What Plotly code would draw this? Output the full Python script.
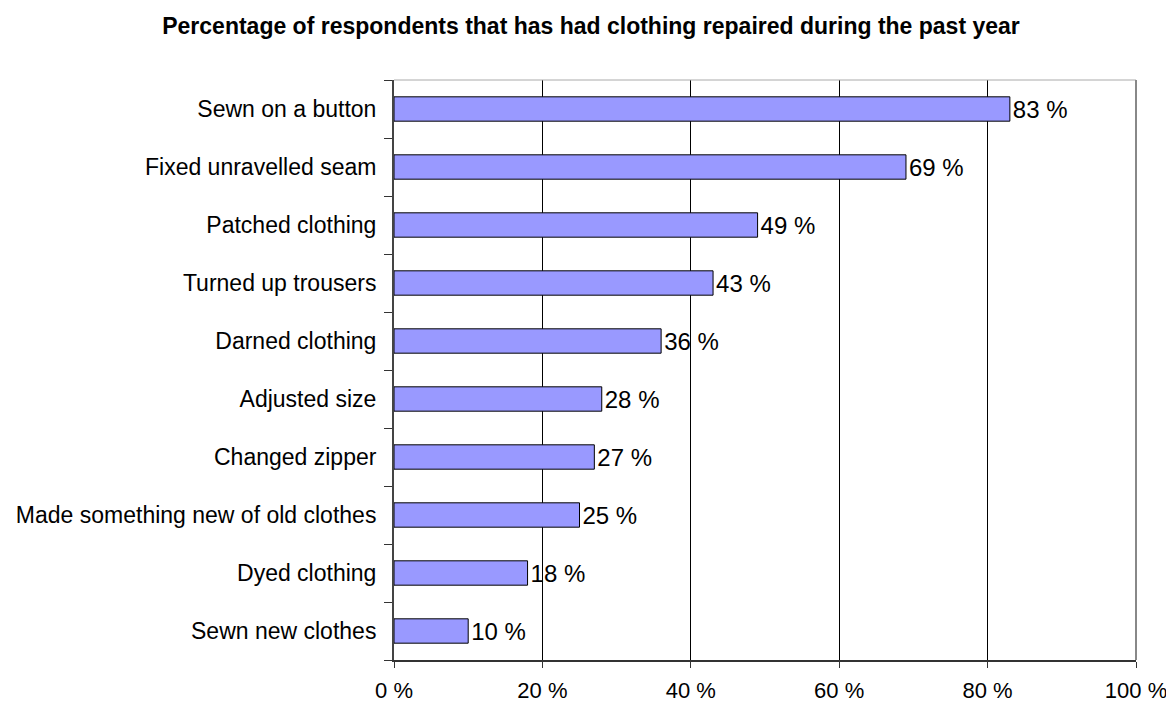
import plotly.graph_objects as go

categories = ["Sewn on a button", "Fixed unravelled seam", "Patched clothing",
              "Turned up trousers", "Darned clothing", "Adjusted size",
              "Changed zipper", "Made something new of old clothes",
              "Dyed clothing", "Sewn new clothes"]
values = [83, 69, 49, 43, 36, 28, 27, 25, 18, 10]
x_ticks = [0, 20, 40, 60, 80, 100]
x_tick_labels = ["0 %", "20 %", "40 %", "60 %", "80 %", "100 %"]
title = "Percentage of respondents that has had clothing repaired during the past year"

fig = go.Figure(go.Bar(
    y=categories, x=values, orientation="h",
    marker=dict(color="#9999FF", line=dict(color="black", width=1)),
    text=[f"{v} %" for v in values], textposition="outside",
    constraintext="none",
    textfont=dict(family="Liberation Sans, Arial", size=24, color="black"),
    cliponaxis=False,
))

# page body has an 8px margin, so the figure is sized/positioned to compensate
fig.update_layout(
    width=1166, height=696,
    margin=dict(l=386, r=38, t=72, b=44, autoexpand=False),
    paper_bgcolor="white", plot_bgcolor="white",
    bargap=0.58,
    showlegend=False,
    title=dict(text=f"<b>{title}</b>", x=0.5, xanchor="center", y=1 - 18 / 696, yanchor="middle",
               font=dict(family="Liberation Sans, Arial", size=23, color="black")),
    font=dict(family="Liberation Sans, Arial", color="black"),
    xaxis=dict(range=[0, 100], tickvals=x_ticks, ticktext=x_tick_labels,
               showgrid=True, gridcolor="black", gridwidth=1,
               showline=True, linecolor="#333333", linewidth=2,
               ticks="outside", ticklen=6, tickcolor="#333333", automargin=False,
               tickfont=dict(size=22), ticklabelstandoff=4, zeroline=False),
    yaxis=dict(categoryorder="array", categoryarray=categories[::-1],
               tickson="boundaries", ticks="outside", ticklen=8, tickcolor="#333333",
               showline=True, linecolor="#444444", linewidth=2, automargin=False,
               tickfont=dict(size=23), ticklabelstandoff=11, showgrid=False),
    shapes=[
        dict(type="line", xref="paper", yref="paper", x0=0, x1=1, y0=1, y1=1,
             line=dict(color="#aaaaaa", width=1)),
        dict(type="line", xref="paper", yref="paper", x0=1, x1=1, y0=0, y1=1,
             line=dict(color="#888888", width=2)),
    ],
)

fig.write_html("out.html")
